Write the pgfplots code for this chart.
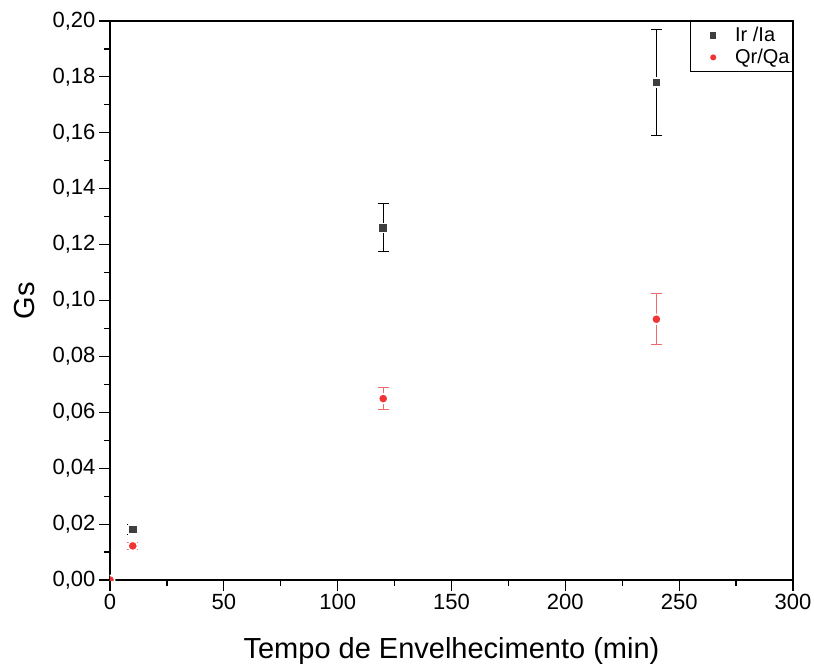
\documentclass[border=0pt]{standalone}
\usepackage{fontspec}
\setmainfont{Liberation Sans}
\usepackage{pgfplots}
\pgfplotsset{compat=1.18}
\definecolor{mkgray}{HTML}{3F3F3F}
\definecolor{mkred}{HTML}{F03434}
\definecolor{barred}{HTML}{F06A6A}

\pgfplotstableread{
x    y       e
0    0       0
10   0.0181  0.0019
120  0.1260  0.0086
240  0.1780  0.0191
}\irdata
\pgfplotstableread{
x    y       e
0    0       0
10   0.0122  0.0013
120  0.0649  0.0038
240  0.0933  0.0091
}\qrdata

\begin{document}
\begin{tikzpicture}
\useasboundingbox (-110pt,-85pt) rectangle (704pt,580pt);
\begin{axis}[
    at={(0,0)}, anchor=south west,
    scale only axis,
    width=683pt, height=559pt,
    xmin=0, xmax=300, ymin=0, ymax=0.2,
    xtick distance=50, ytick distance=0.02,
    minor x tick num=1, minor y tick num=1,
    xtick pos=left, ytick pos=left,
    tick align=outside,
    major tick length=11pt, minor tick length=6pt,
    every tick/.style={black, line width=1.2pt},
    axis line style={line width=1.2pt},
    scaled y ticks=false,
    yticklabel style={/pgf/number format/.cd, fixed, fixed zerofill, precision=2, use comma},
    /pgf/number format/assume math mode=true,
    ticklabel style={font=\fontsize{22}{26}\selectfont},
    xlabel={Tempo de Envelhecimento (min)},
    ylabel={Gs},
    label style={font=\fontsize{29}{34}\selectfont},
    xlabel style={at={(axis description cs:0.5,-0.1413)}, anchor=base},
    ylabel style={at={(axis description cs:-0.125,0.5)}, anchor=center},
    clip marker paths=true,
    legend style={at={(1,1)}, anchor=north east, draw=black, line width=0.8pt,
        font=\fontsize{20}{24}\selectfont, inner xsep=1pt, inner ysep=4pt,
        column sep=0pt, row sep=2pt},
    legend image code/.code={
        \path[draw=none] (-0.78cm,0cm) -- (0.7cm,0cm);
        \draw[#1, mark size=4pt] plot coordinates {(0cm,0cm)};},
    legend cell align=left,
]
\addplot[only marks, mark=square*, mark size=4.5pt,
    mark options={fill=mkgray, draw=white, line width=1.5pt},
    error bars/.cd, y dir=both, y explicit,
    error bar style={black, line width=1pt},
    error mark options={rotate=90, draw=black, line width=1pt, mark size=5.5pt}]
    table[x=x, y=y, y error=e] {\irdata};
\addlegendentry{Ir /Ia}
\addplot[only marks, mark=*, mark size=4.75pt,
    mark options={fill=mkred, draw=white, line width=1.5pt},
    error bars/.cd, y dir=both, y explicit,
    error bar style={barred, line width=1pt},
    error mark options={rotate=90, draw=barred, line width=1pt, mark size=5.5pt}]
    table[x=x, y=y, y error=e] {\qrdata};
\addlegendentry{Qr/Qa}
\end{axis}
\end{tikzpicture}
\end{document}
